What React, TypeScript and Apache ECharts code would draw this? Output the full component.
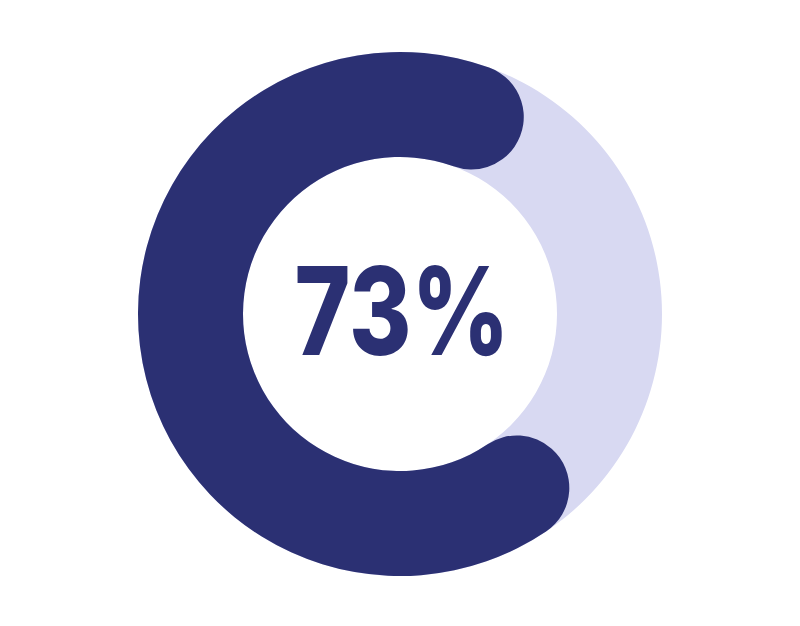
import React, { useEffect, useRef } from 'react';
import * as echarts from 'echarts';

// share shown in the ring and the remainder
const segmentNames = ['Done', 'Rest'];
const segmentValues = [73, 27];
const trackValues = [100];

const DARK = '#2B3073';
const LIGHT = '#D8D9F2';

export default function App() {
  const chartRef = useRef<HTMLDivElement>(null);

  useEffect(() => {
    if (!chartRef.current) return;
    const chart = echarts.init(chartRef.current, undefined, { renderer: 'svg' });

    const option: echarts.EChartsOption = {
      animation: false,
      backgroundColor: '#ffffff',
      graphic: [
        {
          type: 'text',
          x: 402,
          y: 310,
          scaleX: 0.78,
          style: {
            text: `${segmentValues[0]}%`,
            fill: DARK,
            font: '800 122px Inter',
            align: 'center',
            verticalAlign: 'middle',
          },
        },
      ],
      series: [
        {
          type: 'pie',
          silent: true,
          center: [400, 314],
          radius: [157, 262],
          label: { show: false },
          labelLine: { show: false },
          itemStyle: { color: LIGHT },
          data: trackValues.map((v) => ({ value: v, name: 'track' })),
        },
        {
          type: 'pie',
          silent: true,
          center: [400, 314],
          radius: [157, 262],
          startAngle: -41.6,
          clockwise: true,
          label: { show: false },
          labelLine: { show: false },
          data: segmentValues.map((v, i) => ({
            value: v,
            name: segmentNames[i],
            itemStyle:
              i === 0
                ? { color: DARK, borderRadius: 53 }
                : { color: 'transparent' },
          })),
        },
      ],
    };

    chart.setOption(option);

    const handleResize = () => chart.resize();
    window.addEventListener('resize', handleResize);
    return () => {
      window.removeEventListener('resize', handleResize);
      chart.dispose();
    };
  }, []);

  return (
    <div
      ref={chartRef}
      style={{ position: 'fixed', left: 0, top: 0, width: '800px', height: '626px' }}
    />
  );
}
